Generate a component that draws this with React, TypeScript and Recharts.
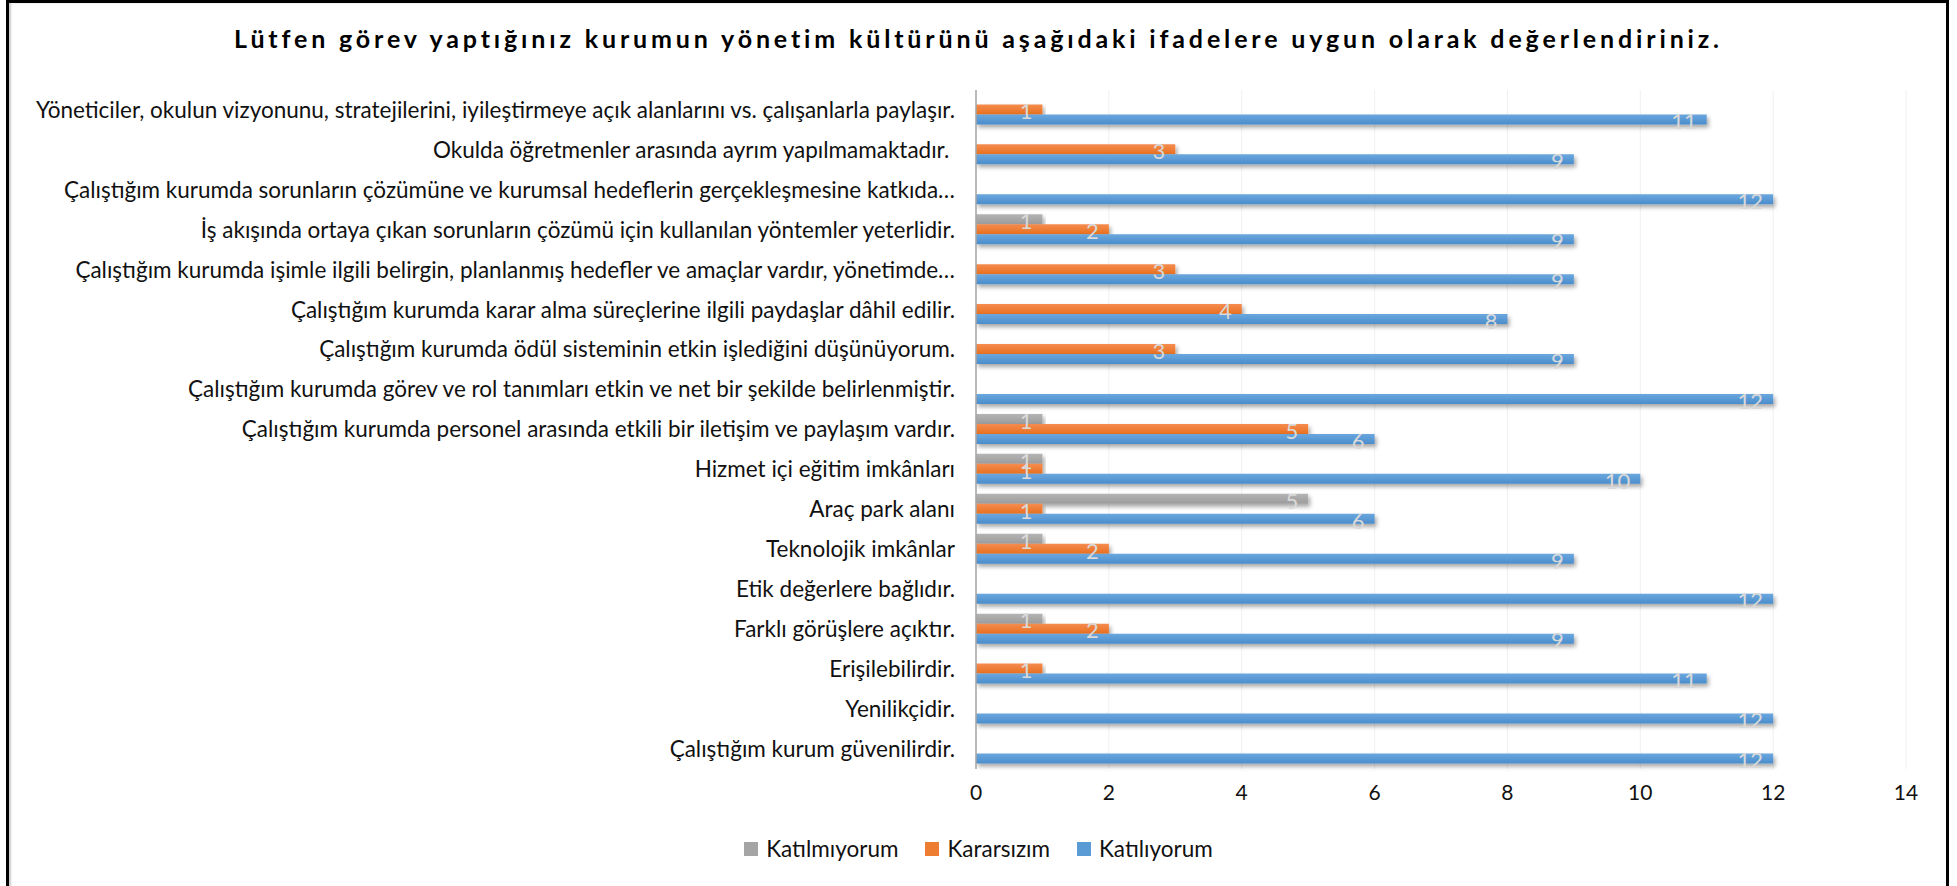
import { BarChart, Bar, XAxis, YAxis, CartesianGrid, Legend, LabelList } from 'recharts'

const categories = [
  'Yöneticiler, okulun vizyonunu, stratejilerini, iyileştirmeye açık alanlarını vs. çalışanlarla paylaşır.',
  'Okulda öğretmenler arasında ayrım yapılmamaktadır.\u00a0',
  'Çalıştığım kurumda sorunların çözümüne ve kurumsal hedeflerin gerçekleşmesine katkıda…',
  'İş akışında ortaya çıkan sorunların çözümü için kullanılan yöntemler yeterlidir.',
  'Çalıştığım kurumda işimle ilgili belirgin, planlanmış hedefler ve amaçlar vardır, yönetimde…',
  'Çalıştığım kurumda karar alma süreçlerine ilgili paydaşlar dâhil edilir.',
  'Çalıştığım kurumda ödül sisteminin etkin işlediğini düşünüyorum.',
  'Çalıştığım kurumda görev ve rol tanımları etkin ve net bir şekilde belirlenmiştir.',
  'Çalıştığım kurumda personel arasında etkili bir iletişim ve paylaşım vardır.',
  'Hizmet içi eğitim imkânları',
  'Araç park alanı',
  'Teknolojik imkânlar',
  'Etik değerlere bağlıdır.',
  'Farklı görüşlere açıktır.',
  'Erişilebilirdir.',
  'Yenilikçidir.',
  'Çalıştığım kurum güvenilirdir.',
]
const katilmiyorum = [0, 0, 0, 1, 0, 0, 0, 0, 1, 1, 5, 1, 0, 1, 0, 0, 0]
const kararsizim = [1, 3, 0, 2, 3, 4, 3, 0, 5, 1, 1, 2, 0, 2, 1, 0, 0]
const katiliyorum = [11, 9, 12, 9, 9, 8, 9, 12, 6, 10, 6, 9, 12, 9, 11, 12, 12]
const xTicks = [0, 2, 4, 6, 8, 10, 12, 14]

const series = [
  { key: 'katilmiyorum', name: 'Katılmıyorum', color: '#a5a5a5', grad: 'gGray' },
  { key: 'kararsizim', name: 'Kararsızım', color: '#ed7d31', grad: 'gOrange' },
  { key: 'katiliyorum', name: 'Katılıyorum', color: '#5b9bd5', grad: 'gBlue' },
]

const data = categories.map((name, i) => ({
  name,
  katilmiyorum: katilmiyorum[i],
  kararsizim: kararsizim[i],
  katiliyorum: katiliyorum[i],
}))

const FONT = 'Lato, "Open Sans", sans-serif'

function CatTick({ x, y, payload }: any) {
  return (
    <text x={x} y={y} dy="0.35em" textAnchor="end" fontSize={22.5} fill="#111" style={{ whiteSpace: 'pre' }}>
      {payload.value}
    </text>
  )
}

function LegendBox() {
  return (
    <div style={{ display: 'flex', justifyContent: 'center', gap: 27, fontSize: 22.5, color: '#111' }}>
      {series.map(s => (
        <div key={s.key} style={{ display: 'flex', alignItems: 'center', gap: 8 }}>
          <div style={{ width: 14, height: 14, background: s.color }} />
          <span>{s.name}</span>
        </div>
      ))}
    </div>
  )
}

export default function App() {
  return (
    <div style={{ position: 'fixed', left: 0, top: 0, width: 1957, height: 886, overflow: 'hidden', background: '#fff', fontFamily: FONT }}>
      <div style={{ position: 'absolute', left: 6, top: 0, width: 1937, height: 900, border: '3px solid #000', boxShadow: '2px 0 2px #ccc inset' }} />
      <div style={{ position: 'absolute', left: 0, top: 23, width: 1957, textAlign: 'center', fontSize: 25, fontWeight: 700, letterSpacing: 3.85, color: '#000' }}>
        Lütfen görev yaptığınız kurumun yönetim kültürünü aşağıdaki ifadelere uygun olarak değerlendiriniz.
      </div>
      <div style={{ position: 'absolute', left: 0, top: 0 }}>
        <BarChart
          width={1957}
          height={886}
          data={data}
          layout="vertical"
          margin={{ top: 90, right: 51, bottom: 87, left: 0 }}
          barCategoryGap="11%"
          barGap={0}
        >
          <defs>
            <linearGradient id="gBlue" x1="0" y1="0" x2="0" y2="1">
              <stop offset="0%" stopColor="#6ba7de" />
              <stop offset="100%" stopColor="#4a8dcc" />
            </linearGradient>
            <linearGradient id="gOrange" x1="0" y1="0" x2="0" y2="1">
              <stop offset="0%" stopColor="#f58c50" />
              <stop offset="100%" stopColor="#e8701f" />
            </linearGradient>
            <linearGradient id="gGray" x1="0" y1="0" x2="0" y2="1">
              <stop offset="0%" stopColor="#b4b4b4" />
              <stop offset="100%" stopColor="#9c9c9c" />
            </linearGradient>
            <filter id="shadow" x="-5%" y="-50%" width="110%" height="250%">
              <feDropShadow dx="2" dy="3" stdDeviation="2" floodColor="#000" floodOpacity="0.35" />
            </filter>
          </defs>
          <CartesianGrid horizontal={false} stroke="#f0f0f0" />
          <XAxis
            type="number"
            domain={[0, 14]}
            ticks={xTicks}
            axisLine={false}
            tickLine={false}
            tickSize={0}
            tickMargin={16}
            tick={{ fontSize: 21, fill: '#111' }}
          />
          <YAxis
            type="category"
            dataKey="name"
            width={976}
            interval={0}
            tickLine={false}
            tickSize={0}
            tickMargin={21}
            axisLine={{ stroke: '#a6a6a6', strokeWidth: 1.5 }}
            tick={<CatTick />}
          />
          <Legend
            verticalAlign="middle"
            layout="horizontal"
            wrapperStyle={{ top: 835, left: 0, width: 1957 }}
            content={<LegendBox />}
          />
          {series.map(s => (
            <Bar
              key={s.key}
              dataKey={s.key}
              name={s.name}
              fill={`url(#${s.grad})`}
              filter="url(#shadow)"
              isAnimationActive={false}
            >
              <LabelList
                dataKey={s.key}
                position="insideRight"
                offset={10}
                fill="#d9d9d9"
                fontSize={22}
                dy={2}
                formatter={(v: any) => (v ? v : '')}
              />
            </Bar>
          ))}
        </BarChart>
      </div>
    </div>
  )
}
